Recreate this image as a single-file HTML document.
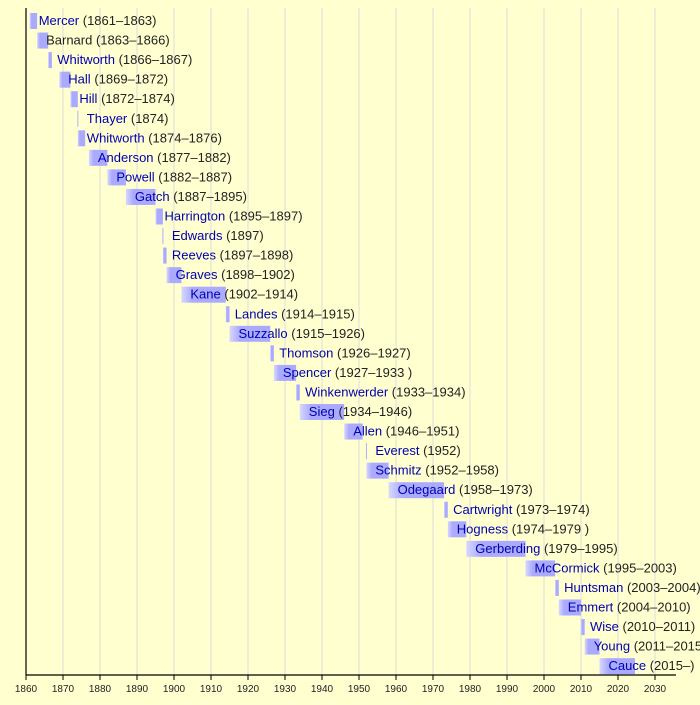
<!DOCTYPE html>
<html><head><meta charset="utf-8"><style>
html,body{margin:0;padding:0;background:#ffffd0;}
svg{display:block;font-family:"Liberation Sans",sans-serif;}
.n{fill:#0000b0;font-size:13px}
.y{fill:#222;font-size:13px}
.t{font-size:10px;fill:#222;text-anchor:middle}
</style></head><body>
<svg width="700" height="705" viewBox="0 0 700 705" xmlns="http://www.w3.org/2000/svg">
<defs><linearGradient id="g" x1="0" x2="1" y1="0" y2="0"><stop offset="0" stop-color="#d8d8ff"/><stop offset="0.25" stop-color="#aaaaff"/><stop offset="1" stop-color="#aaaaff"/></linearGradient></defs>
<rect width="700" height="705" fill="#ffffd0"/>
<g stroke="#dedede" stroke-width="1">
<line x1="63" y1="8" x2="63" y2="675"/><line x1="100" y1="8" x2="100" y2="675"/><line x1="137" y1="8" x2="137" y2="675"/><line x1="174" y1="8" x2="174" y2="675"/><line x1="211" y1="8" x2="211" y2="675"/><line x1="248" y1="8" x2="248" y2="675"/><line x1="285" y1="8" x2="285" y2="675"/><line x1="322" y1="8" x2="322" y2="675"/><line x1="359" y1="8" x2="359" y2="675"/><line x1="396" y1="8" x2="396" y2="675"/><line x1="433" y1="8" x2="433" y2="675"/><line x1="470" y1="8" x2="470" y2="675"/><line x1="507" y1="8" x2="507" y2="675"/><line x1="544" y1="8" x2="544" y2="675"/><line x1="581" y1="8" x2="581" y2="675"/><line x1="618" y1="8" x2="618" y2="675"/><line x1="655" y1="8" x2="655" y2="675"/>
</g>
<g fill="url(#g)">
<rect x="29.7" y="13" width="7.4" height="16"/>
<rect x="37.1" y="32.55" width="11.1" height="16"/>
<rect x="48.2" y="52.1" width="3.7" height="16"/>
<rect x="59.3" y="71.65" width="11.1" height="16"/>
<rect x="70.4" y="91.2" width="7.4" height="16"/>
<rect x="77.3" y="110.75" width="1" height="16"/>
<rect x="77.8" y="130.3" width="7.4" height="16"/>
<rect x="88.9" y="149.85" width="18.5" height="16"/>
<rect x="107.4" y="169.4" width="18.5" height="16"/>
<rect x="125.9" y="188.95" width="29.6" height="16"/>
<rect x="155.5" y="208.5" width="7.4" height="16"/>
<rect x="162.4" y="228.05" width="1" height="16"/>
<rect x="162.9" y="247.6" width="3.7" height="16"/>
<rect x="166.6" y="267.15" width="14.8" height="16"/>
<rect x="181.4" y="286.7" width="44.4" height="16"/>
<rect x="225.8" y="306.25" width="3.7" height="16"/>
<rect x="229.5" y="325.8" width="40.7" height="16"/>
<rect x="270.2" y="345.35" width="3.7" height="16"/>
<rect x="273.9" y="364.9" width="22.2" height="16"/>
<rect x="296.1" y="384.45" width="3.7" height="16"/>
<rect x="299.8" y="404" width="44.4" height="16"/>
<rect x="344.2" y="423.55" width="18.5" height="16"/>
<rect x="365.9" y="443.1" width="1" height="16"/>
<rect x="366.4" y="462.65" width="22.2" height="16"/>
<rect x="388.6" y="482.2" width="55.5" height="16"/>
<rect x="444.1" y="501.75" width="3.7" height="16"/>
<rect x="447.8" y="521.3" width="18.5" height="16"/>
<rect x="466.3" y="540.85" width="59.2" height="16"/>
<rect x="525.5" y="560.4" width="29.6" height="16"/>
<rect x="555.1" y="579.95" width="3.7" height="16"/>
<rect x="558.8" y="599.5" width="22.2" height="16"/>
<rect x="581" y="619.05" width="3.7" height="16"/>
<rect x="584.7" y="638.6" width="14.8" height="16"/>
<rect x="599.5" y="658.15" width="35.5" height="16"/>
</g>
<g>
<text x="38.7" y="25"><tspan class="n">Mercer</tspan><tspan class="y"> (1861–1863)</tspan></text>
<text x="46.1" y="44.55"><tspan class="y">Barnard (1863–1866)</tspan></text>
<text x="57.2" y="64.1"><tspan class="n">Whitworth</tspan><tspan class="y"> (1866–1867)</tspan></text>
<text x="68.3" y="83.65"><tspan class="n">Hall</tspan><tspan class="y"> (1869–1872)</tspan></text>
<text x="79.4" y="103.2"><tspan class="n">Hill</tspan><tspan class="y"> (1872–1874)</tspan></text>
<text x="86.8" y="122.75"><tspan class="n">Thayer</tspan><tspan class="y"> (1874)</tspan></text>
<text x="86.8" y="142.3"><tspan class="n">Whitworth</tspan><tspan class="y"> (1874–1876)</tspan></text>
<text x="97.9" y="161.85"><tspan class="n">Anderson</tspan><tspan class="y"> (1877–1882)</tspan></text>
<text x="116.4" y="181.4"><tspan class="n">Powell</tspan><tspan class="y"> (1882–1887)</tspan></text>
<text x="134.9" y="200.95"><tspan class="n">Gatch</tspan><tspan class="y"> (1887–1895)</tspan></text>
<text x="164.5" y="220.5"><tspan class="n">Harrington</tspan><tspan class="y"> (1895–1897)</tspan></text>
<text x="171.9" y="240.05"><tspan class="n">Edwards</tspan><tspan class="y"> (1897)</tspan></text>
<text x="171.9" y="259.6"><tspan class="n">Reeves</tspan><tspan class="y"> (1897–1898)</tspan></text>
<text x="175.6" y="279.15"><tspan class="n">Graves</tspan><tspan class="y"> (1898–1902)</tspan></text>
<text x="190.4" y="298.7"><tspan class="n">Kane</tspan><tspan class="y"> (1902–1914)</tspan></text>
<text x="234.8" y="318.25"><tspan class="n">Landes</tspan><tspan class="y"> (1914–1915)</tspan></text>
<text x="238.5" y="337.8"><tspan class="n">Suzzallo</tspan><tspan class="y"> (1915–1926)</tspan></text>
<text x="279.2" y="357.35"><tspan class="n">Thomson</tspan><tspan class="y"> (1926–1927)</tspan></text>
<text x="282.9" y="376.9"><tspan class="n">Spencer</tspan><tspan class="y"> (1927–1933 )</tspan></text>
<text x="305.1" y="396.45"><tspan class="n">Winkenwerder</tspan><tspan class="y"> (1933–1934)</tspan></text>
<text x="308.8" y="416"><tspan class="n">Sieg</tspan><tspan class="y"> (1934–1946)</tspan></text>
<text x="353.2" y="435.55"><tspan class="n">Allen</tspan><tspan class="y"> (1946–1951)</tspan></text>
<text x="375.4" y="455.1"><tspan class="n">Everest</tspan><tspan class="y"> (1952)</tspan></text>
<text x="375.4" y="474.65"><tspan class="n">Schmitz</tspan><tspan class="y"> (1952–1958)</tspan></text>
<text x="397.6" y="494.2"><tspan class="n">Odegaard</tspan><tspan class="y"> (1958–1973)</tspan></text>
<text x="453.1" y="513.75"><tspan class="n">Cartwright</tspan><tspan class="y"> (1973–1974)</tspan></text>
<text x="456.8" y="533.3"><tspan class="n">Hogness</tspan><tspan class="y"> (1974–1979 )</tspan></text>
<text x="475.3" y="552.85"><tspan class="n">Gerberding</tspan><tspan class="y"> (1979–1995)</tspan></text>
<text x="534.5" y="572.4"><tspan class="n">McCormick</tspan><tspan class="y"> (1995–2003)</tspan></text>
<text x="564.1" y="591.95"><tspan class="n">Huntsman</tspan><tspan class="y"> (2003–2004)</tspan></text>
<text x="567.8" y="611.5"><tspan class="n">Emmert</tspan><tspan class="y"> (2004–2010)</tspan></text>
<text x="590" y="631.05"><tspan class="n">Wise</tspan><tspan class="y"> (2010–2011)</tspan></text>
<text x="593.7" y="650.6"><tspan class="n">Young</tspan><tspan class="y"> (2011–2015)</tspan></text>
<text x="608.5" y="670.15"><tspan class="n">Cauce</tspan><tspan class="y"> (2015–)</tspan></text>
</g>
<g stroke="#000" stroke-width="1.2">
<line x1="26" y1="8" x2="26" y2="675"/>
<line x1="26" y1="675" x2="676" y2="675"/>
</g>
<g stroke="#000" stroke-width="1">
<line x1="26" y1="675" x2="26" y2="680"/><line x1="63" y1="675" x2="63" y2="680"/><line x1="100" y1="675" x2="100" y2="680"/><line x1="137" y1="675" x2="137" y2="680"/><line x1="174" y1="675" x2="174" y2="680"/><line x1="211" y1="675" x2="211" y2="680"/><line x1="248" y1="675" x2="248" y2="680"/><line x1="285" y1="675" x2="285" y2="680"/><line x1="322" y1="675" x2="322" y2="680"/><line x1="359" y1="675" x2="359" y2="680"/><line x1="396" y1="675" x2="396" y2="680"/><line x1="433" y1="675" x2="433" y2="680"/><line x1="470" y1="675" x2="470" y2="680"/><line x1="507" y1="675" x2="507" y2="680"/><line x1="544" y1="675" x2="544" y2="680"/><line x1="581" y1="675" x2="581" y2="680"/><line x1="618" y1="675" x2="618" y2="680"/><line x1="655" y1="675" x2="655" y2="680"/>
</g>
<g class="t">
<text class="t" x="26" y="692">1860</text><text class="t" x="63" y="692">1870</text><text class="t" x="100" y="692">1880</text><text class="t" x="137" y="692">1890</text><text class="t" x="174" y="692">1900</text><text class="t" x="211" y="692">1910</text><text class="t" x="248" y="692">1920</text><text class="t" x="285" y="692">1930</text><text class="t" x="322" y="692">1940</text><text class="t" x="359" y="692">1950</text><text class="t" x="396" y="692">1960</text><text class="t" x="433" y="692">1970</text><text class="t" x="470" y="692">1980</text><text class="t" x="507" y="692">1990</text><text class="t" x="544" y="692">2000</text><text class="t" x="581" y="692">2010</text><text class="t" x="618" y="692">2020</text><text class="t" x="655" y="692">2030</text>
</g>
</svg>
</body></html>
